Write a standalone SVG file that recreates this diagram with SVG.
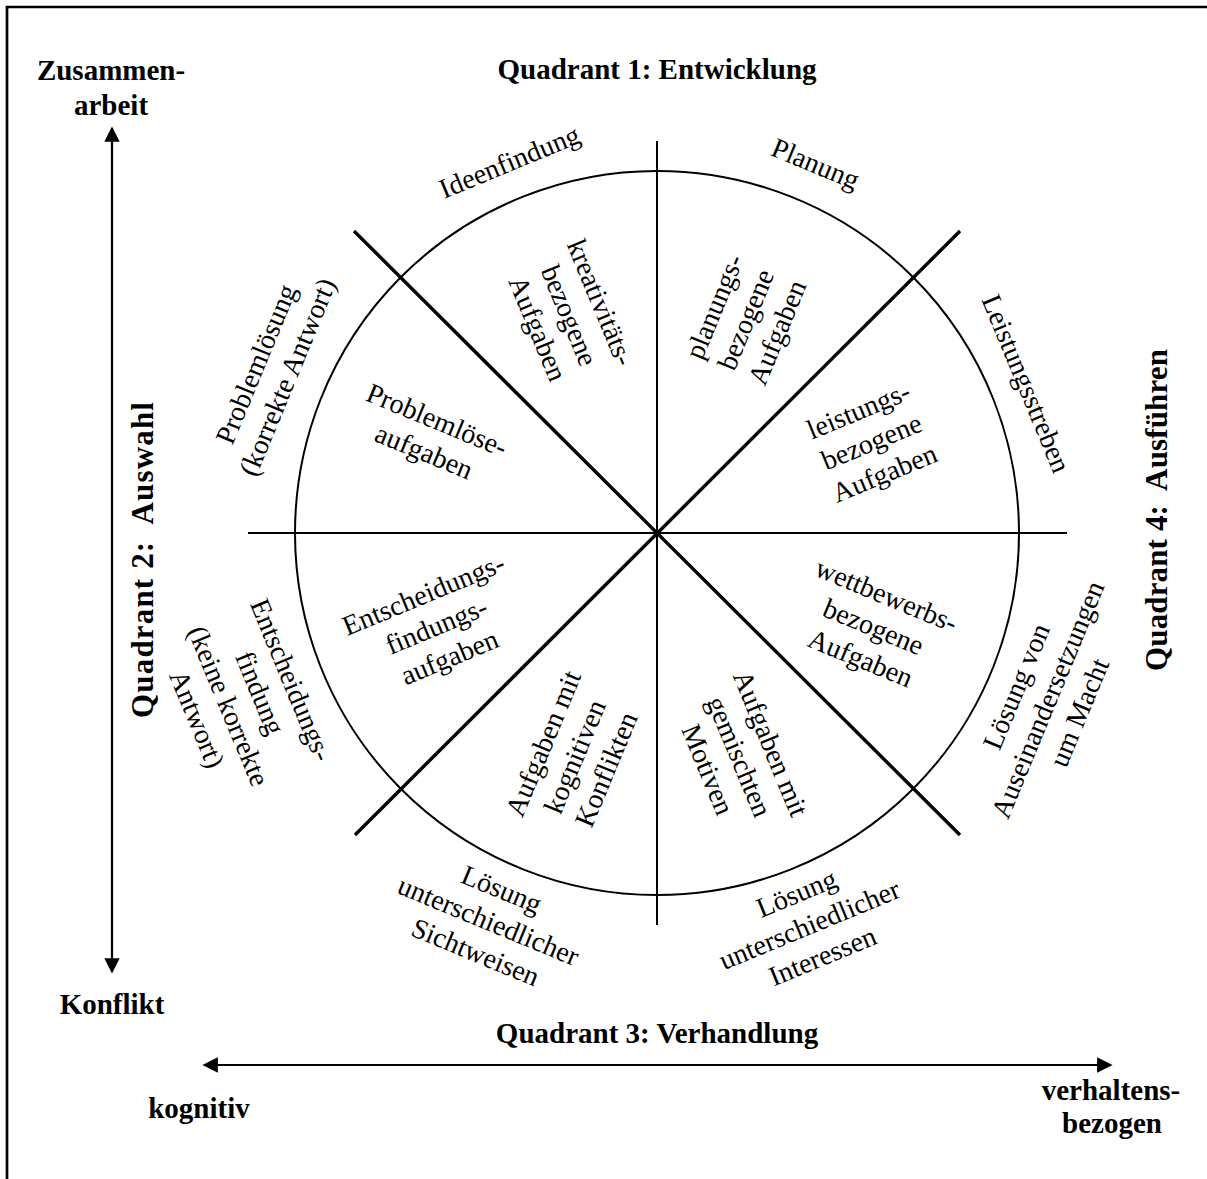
<svg xmlns="http://www.w3.org/2000/svg" width="1207" height="1179" viewBox="0 0 1207 1179">
<defs>
<style>
.t{font-family:"Liberation Serif","Times New Roman",serif;font-size:28px;fill:#000;text-anchor:middle}
.b{font-family:"Liberation Serif","Times New Roman",serif;font-size:29px;font-weight:bold;fill:#000;text-anchor:middle}
.bq{font-family:"Liberation Serif","Times New Roman",serif;font-size:31px;font-weight:bold;fill:#000;text-anchor:middle}
.thin{stroke:#000;stroke-width:2;fill:none}
.thick{stroke:#000;stroke-width:3.4;fill:none}
.arr{stroke:#000;stroke-width:2.2;fill:none;marker-start:url(#ah);marker-end:url(#ah)}
</style>
<marker id="ah" viewBox="0 0 10 10" refX="9" refY="5" markerWidth="7" markerHeight="7" orient="auto-start-reverse" markerUnits="strokeWidth">
<path d="M0,0 L10,5 L0,10 Z" fill="#000"/>
</marker>
</defs>
<rect width="1207" height="1179" fill="#fff"/>
<path d="M7,1179 V7 H1207" stroke="#000" stroke-width="2.7" fill="none"/>

<g id="connectors">
<circle class="thin" cx="657" cy="533" r="362"/>
<line class="thin" x1="657" y1="141" x2="657" y2="925"/>
<line class="thin" x1="248" y1="533" x2="1067" y2="533"/>
<line class="thick" x1="354" y1="231" x2="960" y2="835"/>
<line class="thick" x1="960" y1="231" x2="355" y2="835"/>
<line class="arr" x1="112" y1="128" x2="112" y2="972"/>
<line class="arr" x1="204" y1="1065" x2="1111" y2="1065"/>
</g>

<g id="axis-zusammenarbeit"><text class="b" x="111" y="80">Zusammen-</text><text class="b" x="111" y="115">arbeit</text></g>
<g id="axis-konflikt"><text class="b" x="112" y="1014">Konflikt</text></g>
<g id="axis-kognitiv"><text class="b" x="199" y="1118">kognitiv</text></g>
<g id="axis-verhaltensbezogen"><text class="b" x="1111" y="1100">verhaltens-</text><text class="b" x="1112" y="1133">bezogen</text></g>

<g id="quadrant1"><text class="b" x="657" y="79">Quadrant 1: Entwicklung</text></g>
<g id="quadrant2" transform="translate(153,560) rotate(-90)"><text class="bq" x="0" y="0" xml:space="preserve" textLength="316" lengthAdjust="spacing">Quadrant 2:  Auswahl</text></g>
<g id="quadrant3"><text class="b" x="657" y="1043">Quadrant 3: Verhandlung</text></g>
<g id="quadrant4" transform="translate(1167,510) rotate(-90)"><text class="bq" x="0" y="0" xml:space="preserve" textLength="322" lengthAdjust="spacing">Quadrant 4:  Ausführen</text></g>

<g id="ideenfindung" transform="translate(510,163) rotate(-22.5)"><text class="t" y="8">Ideenfindung</text></g>
<g id="planung" transform="translate(815,165) rotate(22.5)"><text class="t" y="8">Planung</text></g>
<g id="leistungsstreben" transform="translate(1025,384) rotate(67.5)"><text class="t" y="8">Leistungsstreben</text></g>
<g id="problemloesung" transform="translate(273,371) rotate(-67.5)"><text class="t" y="-9">Problemlösung</text><text class="t" y="25">(korrekte Antwort)</text></g>
<g id="entscheidungsfindung" transform="translate(243,700) rotate(67.5)"><text class="t" y="-43">Entscheidungs-</text><text class="t" y="-9">findung</text><text class="t" y="25">(keine korrekte</text><text class="t" y="59">Antwort)</text></g>
<g id="loesung-macht" transform="translate(1049,700) rotate(-67.5)"><text class="t" y="-26">Lösung von</text><text class="t" y="8">Auseinandersetzungen</text><text class="t" y="42">um Macht</text></g>
<g id="loesung-sichtweisen" transform="translate(488,922) rotate(22.5)"><text class="t" y="-26">Lösung</text><text class="t" y="8">unterschiedlicher</text><text class="t" y="42">Sichtweisen</text></g>
<g id="loesung-interessen" transform="translate(810,926) rotate(-22.5)"><text class="t" y="-26">Lösung</text><text class="t" y="8">unterschiedlicher</text><text class="t" y="42">Interessen</text></g>

<g id="kreativitaet" transform="translate(568,316) rotate(67.5)"><text class="t" y="-26">kreativitäts-</text><text class="t" y="8">bezogene</text><text class="t" y="42">Aufgaben</text></g>
<g id="planungsbezogen" transform="translate(747,320) rotate(-67.5)"><text class="t" y="-26">planungs-</text><text class="t" y="8">bezogene</text><text class="t" y="42">Aufgaben</text></g>
<g id="leistungsbezogen" transform="translate(872,443) rotate(-22.5)"><text class="t" y="-26">leistungs-</text><text class="t" y="8">bezogene</text><text class="t" y="42">Aufgaben</text></g>
<g id="wettbewerbsbezogen" transform="translate(873,628) rotate(22.5)"><text class="t" y="-26">wettbewerbs-</text><text class="t" y="8">bezogene</text><text class="t" y="42">Aufgaben</text></g>
<g id="gemischte-motive" transform="translate(738,757) rotate(67.5)"><text class="t" y="-26">Aufgaben mit</text><text class="t" y="8">gemischten</text><text class="t" y="42">Motiven</text></g>
<g id="kognitive-konflikte" transform="translate(576,757) rotate(-67.5)"><text class="t" y="-26">Aufgaben mit</text><text class="t" y="8">kognitiven</text><text class="t" y="42">Konflikten</text></g>
<g id="entscheidungsfindungsaufgaben" transform="translate(437,627) rotate(-22.5)"><text class="t" y="-26">Entscheidungs-</text><text class="t" y="8">findungs-</text><text class="t" y="42">aufgaben</text></g>
<g id="problemloeseaufgaben" transform="translate(430,437) rotate(22.5)"><text class="t" y="-9">Problemlöse-</text><text class="t" y="25">aufgaben</text></g>
</svg>
